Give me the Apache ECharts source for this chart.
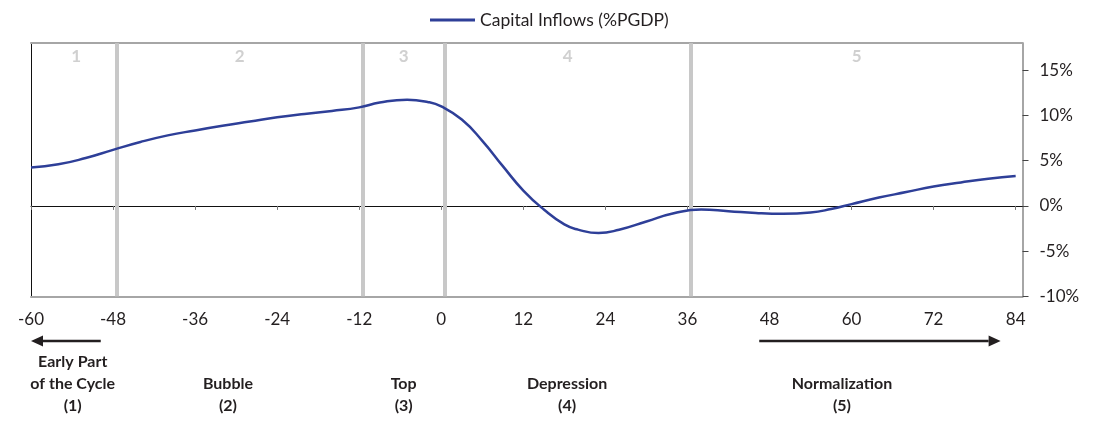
<!DOCTYPE html>
<html><head><meta charset="utf-8">
<script src="https://cdn.jsdelivr.net/npm/echarts@6/dist/echarts.min.js"></script>
<style>html,body{margin:0;padding:0;background:#fff}#c{width:1098px;height:446px}</style>
</head><body><div id="c"></div>
<script>
// ---- data ----
const months  = [-60,-56,-52,-48,-44,-40,-36,-32,-28,-24,-20,-16,-12,-9,-5,-2,0,3,6,9,12,15,18,20,23,26,30,34,38,42,46,50,54,57,60,64,68,72,76,80,84];
const inflows = [4.25,4.6,5.3,6.2,7.07,7.8,8.35,8.86,9.33,9.8,10.18,10.51,10.9,11.43,11.75,11.5,11.0,9.55,7.2,4.4,1.7,-0.4,-2.05,-2.62,-3.0,-2.64,-1.72,-0.82,-0.4,-0.58,-0.79,-0.88,-0.74,-0.35,0.2,0.92,1.53,2.15,2.6,3.0,3.3];
const seriesName = 'Capital Inflows (%PGDP)';
const xTicks = [-60,-48,-36,-24,-12,0,12,24,36,48,60,72,84];
const yTicks = [-10,-5,0,5,10,15];
const phaseBounds = [-47.5,-11.5,0.5,36.5];
const phaseNumbers = ['1','2','3','4','5'];
const phaseNumberX = [-53.4,-29.5,-5.5,18.5,60.75];
const phaseNumberY = 16.5;
const phaseNames = ['Early Part\nof the Cycle\n(1)','Bubble\n(2)','Top\n(3)','Depression\n(4)','Normalization\n(5)'];
const phaseNameX = [-53.9,-31.2,-5.5,18.4,58.6];
const arrowLeft = [-49.8,-60];
const arrowRight = [46.5,81.8];

const X_MIN = -60, X_MAX = 85, Y_MIN = -10, Y_MAX = 18;
const TXT = '#231f20';
const LINE = '#2e3f98';
const FONT = 'Lato, "Open Sans", sans-serif';

const chart = echarts.init(document.getElementById('c'), null, {renderer:'canvas'});
const yBase = {type:'value', min:Y_MIN, max:Y_MAX, interval:5, splitLine:{show:false}};
const xBase = {type:'value', min:X_MIN, max:X_MAX, interval:12, splitLine:{show:false}};

chart.setOption({
  animation:false,
  textStyle:{fontFamily:FONT},
  grid:{left:31, right:75.5, top:43.2, bottom:149.7, containLabel:false},
  legend:{
    data:[{name:seriesName, icon:'rect'}], left:430, top:11, padding:0,
    itemWidth:45, itemHeight:3,
    textStyle:{fontSize:17.5, color:TXT, fontFamily:FONT}
  },
  xAxis:[
    Object.assign({}, xBase, {position:'bottom',
      axisLine:{onZero:false, lineStyle:{color:'#a6a6a6', width:2}},
      axisTick:{show:false},
      axisLabel:{customValues:xTicks, margin:15, fontSize:17, color:TXT, fontFamily:FONT}}),
    Object.assign({}, xBase, {position:'top',
      axisLine:{onZero:true, lineStyle:{color:'#111', width:1}},
      axisTick:{show:true, inside:true, length:4, customValues:xTicks, lineStyle:{color:'#777', width:1}},
      axisLabel:{show:false}}),
    Object.assign({}, xBase, {position:'top',
      axisLine:{onZero:false, lineStyle:{color:'#a6a6a6', width:2}},
      axisTick:{show:false}, axisLabel:{show:false}})
  ],
  yAxis:[
    Object.assign({}, yBase, {position:'right',
      axisLine:{show:true, onZero:false, lineStyle:{color:'#a6a6a6', width:2}},
      axisTick:{show:true, length:6, customValues:yTicks, lineStyle:{color:'#444', width:1}},
      axisLabel:{customValues:yTicks, margin:17, fontSize:17, color:TXT, fontFamily:FONT, formatter:v=>v+'%'}}),
    Object.assign({}, yBase, {position:'left',
      axisLine:{show:true, onZero:false, lineStyle:{color:'#111', width:1}},
      axisTick:{show:false}, axisLabel:{show:false}})
  ],
  series:[
    {type:'line', name:'bands', data:[], z:1, silent:true,
      markLine:{silent:true, symbol:['none','none'], label:{show:false},
        lineStyle:{color:'#c8c8c8', width:4, type:'solid'},
        emphasis:{disabled:true},
        data:phaseBounds.map(b=>({xAxis:b}))}},
    {type:'scatter', name:'phaseNums', z:2, silent:true, symbolSize:0,
      data:phaseNumberX.map((x,i)=>[x, phaseNumberY, phaseNumbers[i]]),
      label:{show:true, position:'inside', formatter:p=>p.value[2], fontSize:17, fontWeight:'bold', color:'#c4c4c4', fontFamily:FONT}},
    {type:'line', name:seriesName, z:5, smooth:0.5, symbol:'none',
      data:months.map((m,i)=>[m, inflows[i]]),
      lineStyle:{color:LINE, width:2.5}, itemStyle:{color:LINE}}
  ]
});

function px(x){ return chart.convertToPixel({xAxisIndex:0}, x); }
const yArrow = 341;
const graphics = [];
phaseNames.forEach((t,i)=>{
  graphics.push({type:'text', silent:true,
    style:{text:t, x:px(phaseNameX[i]), y:417, align:'center', verticalAlign:'bottom',
      font:'bold 16px '+FONT, lineHeight:22, fill:TXT}});
});
function arrow(from, to){
  const x0 = px(from), x1 = px(to);
  const dir = x1 > x0 ? 1 : -1;
  const base = x1 - dir*12;
  graphics.push({type:'line', silent:true, shape:{x1:x0, y1:yArrow, x2:base, y2:yArrow},
    style:{stroke:TXT, lineWidth:2.5}});
  graphics.push({type:'polygon', silent:true, shape:{points:[[x1,yArrow],[base,yArrow-5.5],[base,yArrow+5.5]]},
    style:{fill:TXT}});
}
arrow(arrowLeft[0], arrowLeft[1]);
arrow(arrowRight[0], arrowRight[1]);
chart.setOption({graphic:graphics});
</script></body></html>
